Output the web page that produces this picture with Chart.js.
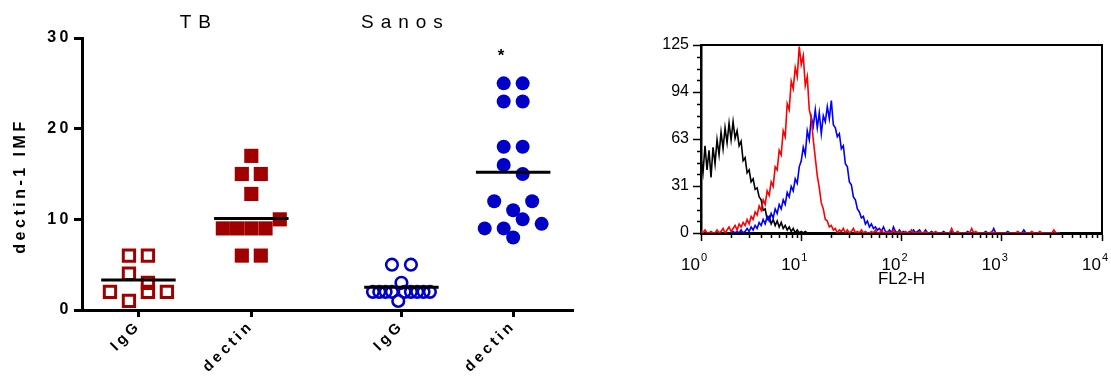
<!DOCTYPE html>
<html>
<head>
<meta charset="utf-8">
<script src="https://cdn.jsdelivr.net/npm/chart.js@4.4.0/dist/chart.umd.min.js"></script>
<style>
  html, body { margin: 0; padding: 0; background: #fff; }
  body { width: 1111px; height: 376px; position: relative; overflow: hidden; }
  #left { position: absolute; left: 0; top: 0; }
  #right { position: absolute; left: 620px; top: 0; }
</style>
</head>
<body>
<canvas id="left" width="600" height="376"></canvas>
<canvas id="right" width="491" height="376"></canvas>
<script>
// ---- left panel: dectin-1 IMF per group ----
const groups = ['TB', 'Sanos']
const categories = ['IgG', 'dectin', 'IgG', 'dectin']
const tbIgG = [6, 6, 4, 3, 2, 1, 2, 2]
const tbDectin = [17, 15, 15, 12.8, 9, 9, 9, 9, 10, 6, 6]
const sanosIgG = [5, 5, 3, 2, 2, 2, 2, 1, 2, 2, 2, 2, 2]
const sanosDectin = [25, 25, 23, 23, 18, 18, 16, 15, 12, 11, 12, 9, 9, 10, 9.5, 8]
const groupMeans = [3.3, 10.1, 2.5, 15.2]
const yTicksLeft = [0, 10, 20, 30]
const starLabel = '*'
const starValue = 28.3

// ---- right panel: FL2-H histograms (counts per channel, 0.02 decade channels) ----
const histStep = 0.02
const blackStart = 0
const blackCounts = [
  50, 40, 58, 42, 55, 37, 57, 46, 62, 52,
  67, 56, 70, 60, 73, 62, 74, 63, 68, 58,
  61, 48, 50, 40, 42, 34, 36, 29, 30, 24,
  22, 15, 16, 9, 11, 6, 9, 5, 8, 4,
  7, 3, 5, 2, 4, 1, 3, 0, 2, 0,
  1, 0, 1, 0, 0, 0
]
const redStart = 0
const redCounts = [
  1, 0, 2, 0, 0, 1, 0, 0, 2, 0,
  1, 3, 0, 2, 4, 1, 3, 5, 2, 6,
  4, 7, 5, 9, 6, 11, 9, 14, 12, 18,
  15, 22, 19, 28, 25, 34, 31, 44, 42, 55,
  52, 68, 64, 86, 82, 101, 96, 110, 104, 124,
  112, 118, 98, 104, 82, 76, 62, 50, 38, 30,
  20, 16, 9, 8, 4, 5, 2, 3, 0, 2,
  1, 3, 0, 2, 0, 1, 3, 0, 1, 0,
  2, 0, 1, 0, 0, 1, 0, 2, 0, 0,
  2, 0, 0, 1, 0, 0, 2, 0, 0, 1,
  0, 0, 1, 0, 0, 2, 0, 0, 0, 1,
  0, 0, 1, 0, 0, 0, 0, 1, 0, 0,
  0, 0, 0, 0, 0, 3, 0, 0, 1, 0,
  0, 0, 0, 0, 0, 3, 0, 1, 0, 0,
  0, 0, 0, 0, 0, 1, 0, 0, 0, 0,
  0, 0, 0, 0, 0, 0, 0, 0, 1, 0,
  0, 0, 0, 0, 0, 1, 0, 0, 0, 1,
  0, 0, 0, 0, 0, 0, 2, 0, 0, 0
]
const blueStart = 15
const blueCounts = [
  0, 1, 0, 1, 0, 2, 0, 1, 3, 1,
  4, 2, 5, 3, 7, 5, 9, 6, 11, 8,
  13, 10, 16, 13, 19, 16, 22, 19, 27, 24,
  31, 28, 36, 33, 44, 48, 57, 52, 68, 62,
  77, 71, 82, 70, 80, 66, 78, 74, 84, 76,
  88, 72, 70, 64, 66, 56, 58, 46, 44, 34,
  32, 24, 22, 16, 14, 10, 11, 6, 8, 4,
  6, 3, 4, 2, 3, 1, 4, 1, 0, 2,
  0, 4, 1, 0, 2, 0, 1, 0, 0, 1,
  0, 2, 0, 1, 2, 0, 0, 2, 0, 0,
  1, 0, 0, 0, 0, 0, 1, 0, 0, 0,
  1, 0, 0, 0, 0, 0, 0, 0, 1, 0,
  0, 0, 0, 0, 0, 0, 0, 1, 0, 0,
  0, 3, 0, 0, 0, 0, 0, 0, 1, 0,
  0, 0, 0, 0, 0, 0, 2, 0, 0, 0,
  0, 0, 0, 0, 0, 0, 0, 0, 0, 0,
  0, 0, 0, 0, 0
]
const xDecades = [1, 10, 100, 1000, 10000]
const xExponents = ['0', '1', '2', '3', '4']
const yTicksRight = [0, 31.25, 62.5, 93.75, 125]
const yTickLabelsRight = ['0', '31', '63', '94', '125']

const FONT = 'Arial, "Liberation Sans", sans-serif'
const RED = '#a00000'
const BLUE = '#0000c8'

// layout of the dot plot columns (x axis units, 113px each)
const pxPerUnit = 113
const groupX = [1, 2, 3.33, 4.32]
const meanHalf = 0.33

// spread points that share a value band around the column centre
function swarm(values, center) {
  const bins = {}
  values.forEach((v, i) => {
    const b = Math.round(v / 2)
    ;(bins[b] = bins[b] || []).push(i)
  })
  const pts = []
  Object.values(bins).forEach(idx => {
    const n = idx.length
    const gap = n > 1 ? Math.min(19, 57 / (n - 1)) : 0
    idx.forEach((i, k) => {
      pts.push({ x: center + ((k - (n - 1) / 2) * gap) / pxPerUnit, y: values[i] })
    })
  })
  return pts
}

const series = [tbIgG, tbDectin, sanosIgG, sanosDectin]
const markers = [
  { pointStyle: 'rect', radius: 8, bg: 'rgba(0,0,0,0)', border: RED, bw: 3 },
  { pointStyle: 'rect', radius: 10, bg: RED, border: RED, bw: 0 },
  { pointStyle: 'circle', radius: 5.8, bg: 'rgba(0,0,0,0)', border: BLUE, bw: 2.6 },
  { pointStyle: 'circle', radius: 7, bg: BLUE, border: BLUE, bw: 0 }
]

const leftDatasets = []
groupMeans.forEach((m, i) => {
  leftDatasets.push({
    type: 'line',
    data: [{ x: groupX[i] - meanHalf, y: m }, { x: groupX[i] + meanHalf, y: m }],
    borderColor: '#000',
    borderWidth: 3,
    pointRadius: 0,
    order: 0
  })
})
series.forEach((vals, i) => {
  const mk = markers[i]
  leftDatasets.push({
    type: 'scatter',
    data: swarm(vals, groupX[i]),
    pointStyle: mk.pointStyle,
    pointRadius: mk.radius,
    backgroundColor: mk.bg,
    borderColor: mk.border,
    borderWidth: mk.bw,
    order: 1
  })
})

const leftText = {
  id: 'leftText',
  beforeDraw(chart) {
    chart.ctx.letterSpacing = '3.5px'
  },
  afterDraw(chart) {
    const { ctx, scales: { x, y } } = chart
    ctx.save()
    ctx.fillStyle = '#000'
    ctx.textAlign = 'center'
    ctx.textBaseline = 'middle'
    ctx.font = '19px ' + FONT
    ctx.letterSpacing = '7px'
    // TB sits over both of its columns, Sanos over its IgG column as in the figure
    ctx.fillText(groups[0], (x.getPixelForValue(groupX[0]) + x.getPixelForValue(groupX[1])) / 2 + 4, 23)
    ctx.fillText(groups[1], x.getPixelForValue(groupX[2]) + 4, 23)

    ctx.letterSpacing = '0px'
    ctx.font = 'bold 17px ' + FONT
    ctx.fillText(starLabel, x.getPixelForValue(groupX[3]) - 12, y.getPixelForValue(starValue) + 3)

    ctx.translate(21, 188)
    ctx.rotate(-Math.PI / 2)
    ctx.font = 'bold 16px ' + FONT
    ctx.letterSpacing = '3.5px'
    ctx.fillText('dectin-1 IMF', 2, 0)
    ctx.restore()
    ctx.letterSpacing = '0px'
  }
}

new Chart(document.getElementById('left'), {
  data: { datasets: leftDatasets },
  options: {
    responsive: false,
    animation: false,
    devicePixelRatio: 1,
    layout: { padding: { left: 0, top: 38, right: 27, bottom: 0 } },
    plugins: { legend: { display: false }, tooltip: { enabled: false } },
    scales: {
      x: {
        type: 'linear',
        min: 0.5,
        max: 4.85,
        afterBuildTicks: s => { s.ticks = groupX.map(v => ({ value: v })) },
        afterFit: s => { s.height = 66 },
        border: { color: '#000', width: 3 },
        grid: { drawOnChartArea: false, tickLength: 7, tickWidth: 3, tickColor: '#000' },
        ticks: {
          callback: (v, i) => categories[i],
          autoSkip: false,
          minRotation: 45,
          maxRotation: 45,
          padding: 0,
          color: '#000',
          font: { family: FONT, size: 15, weight: 'bold' }
        }
      },
      y: {
        min: 0,
        max: 30,
        afterBuildTicks: s => { s.ticks = yTicksLeft.map(v => ({ value: v })) },
        afterFit: s => { s.width = 82 },
        border: { color: '#000', width: 3 },
        grid: { drawOnChartArea: false, tickLength: 8, tickWidth: 3, tickColor: '#000' },
        ticks: {
          padding: 2,
          color: '#000',
          font: { family: FONT, size: 16, weight: 'bold' }
        }
      }
    }
  },
  plugins: [leftText]
})

// ---- right panel ----
function histPoints(counts, start) {
  return counts.map((c, i) => ({ x: Math.pow(10, (start + i) * histStep), y: c }))
}

const rightDecor = {
  id: 'rightDecor',
  afterDraw(chart) {
    const { ctx, chartArea: a, scales: { x, y } } = chart
    ctx.save()
    ctx.strokeStyle = '#000'
    // frame top and right
    ctx.lineWidth = 2
    ctx.beginPath()
    ctx.moveTo(a.left, a.top)
    ctx.lineTo(a.right, a.top)
    ctx.lineTo(a.right, a.bottom)
    ctx.stroke()
    // minor ticks
    ctx.lineWidth = 1.5
    ctx.beginPath()
    for (let n = 0; n < 4; n++) {
      for (let m = 2; m < 10; m++) {
        const px = Math.round(x.getPixelForValue(m * Math.pow(10, n))) + 0.5
        ctx.moveTo(px, a.bottom)
        ctx.lineTo(px, a.bottom + 5)
      }
    }
    for (let k = 1; k < 16; k++) {
      if (k % 4 === 0) continue
      const py = Math.round(y.getPixelForValue(k * 125 / 16)) + 0.5
      ctx.moveTo(a.left - 4, py)
      ctx.lineTo(a.left, py)
    }
    ctx.stroke()
    // decade labels with raised exponent
    ctx.fillStyle = '#000'
    ctx.textBaseline = 'alphabetic'
    xDecades.forEach((v, i) => {
      const px = x.getPixelForValue(v)
      ctx.font = '17px ' + FONT
      ctx.textAlign = 'right'
      ctx.fillText('10', px - 1, 270)
      ctx.font = '11px ' + FONT
      ctx.textAlign = 'left'
      ctx.fillText(xExponents[i], px, 261)
    })
    ctx.restore()
  }
}

new Chart(document.getElementById('right'), {
  type: 'line',
  data: {
    datasets: [
      { data: histPoints(redCounts, redStart), borderColor: '#ff0000' },
      { data: histPoints(blueCounts, blueStart), borderColor: '#0000ff' },
      { data: histPoints(blackCounts, blackStart), borderColor: '#000000' }
    ]
  },
  options: {
    responsive: false,
    animation: false,
    devicePixelRatio: 1,
    layout: { padding: { left: 0, top: 45, right: 9, bottom: 0 } },
    elements: { line: { borderWidth: 1.6, tension: 0 }, point: { radius: 0 } },
    plugins: { legend: { display: false }, tooltip: { enabled: false } },
    scales: {
      x: {
        type: 'logarithmic',
        min: 1,
        max: 10000,
        afterBuildTicks: s => { s.ticks = xDecades.map(v => ({ value: v })) },
        afterFit: s => { s.height = 143 },
        border: { color: '#000', width: 3 },
        grid: { drawOnChartArea: false, tickLength: 8, tickWidth: 1.5, tickColor: '#000' },
        ticks: { display: false },
        title: {
          display: true,
          text: 'FL2-H',
          color: '#000',
          font: { family: FONT, size: 17 },
          padding: { top: 0, bottom: 86 }
        }
      },
      y: {
        min: 0,
        max: 125,
        afterBuildTicks: s => { s.ticks = yTicksRight.map(v => ({ value: v })) },
        afterFit: s => { s.width = 81 },
        border: { color: '#000', width: 2.5 },
        grid: { drawOnChartArea: false, tickLength: 8, tickWidth: 1.5, tickColor: '#000' },
        ticks: {
          callback: (v, i) => yTickLabelsRight[i],
          padding: 4,
          color: '#000',
          font: { family: FONT, size: 16 }
        }
      }
    }
  },
  plugins: [rightDecor]
})
</script>
</body>
</html>
